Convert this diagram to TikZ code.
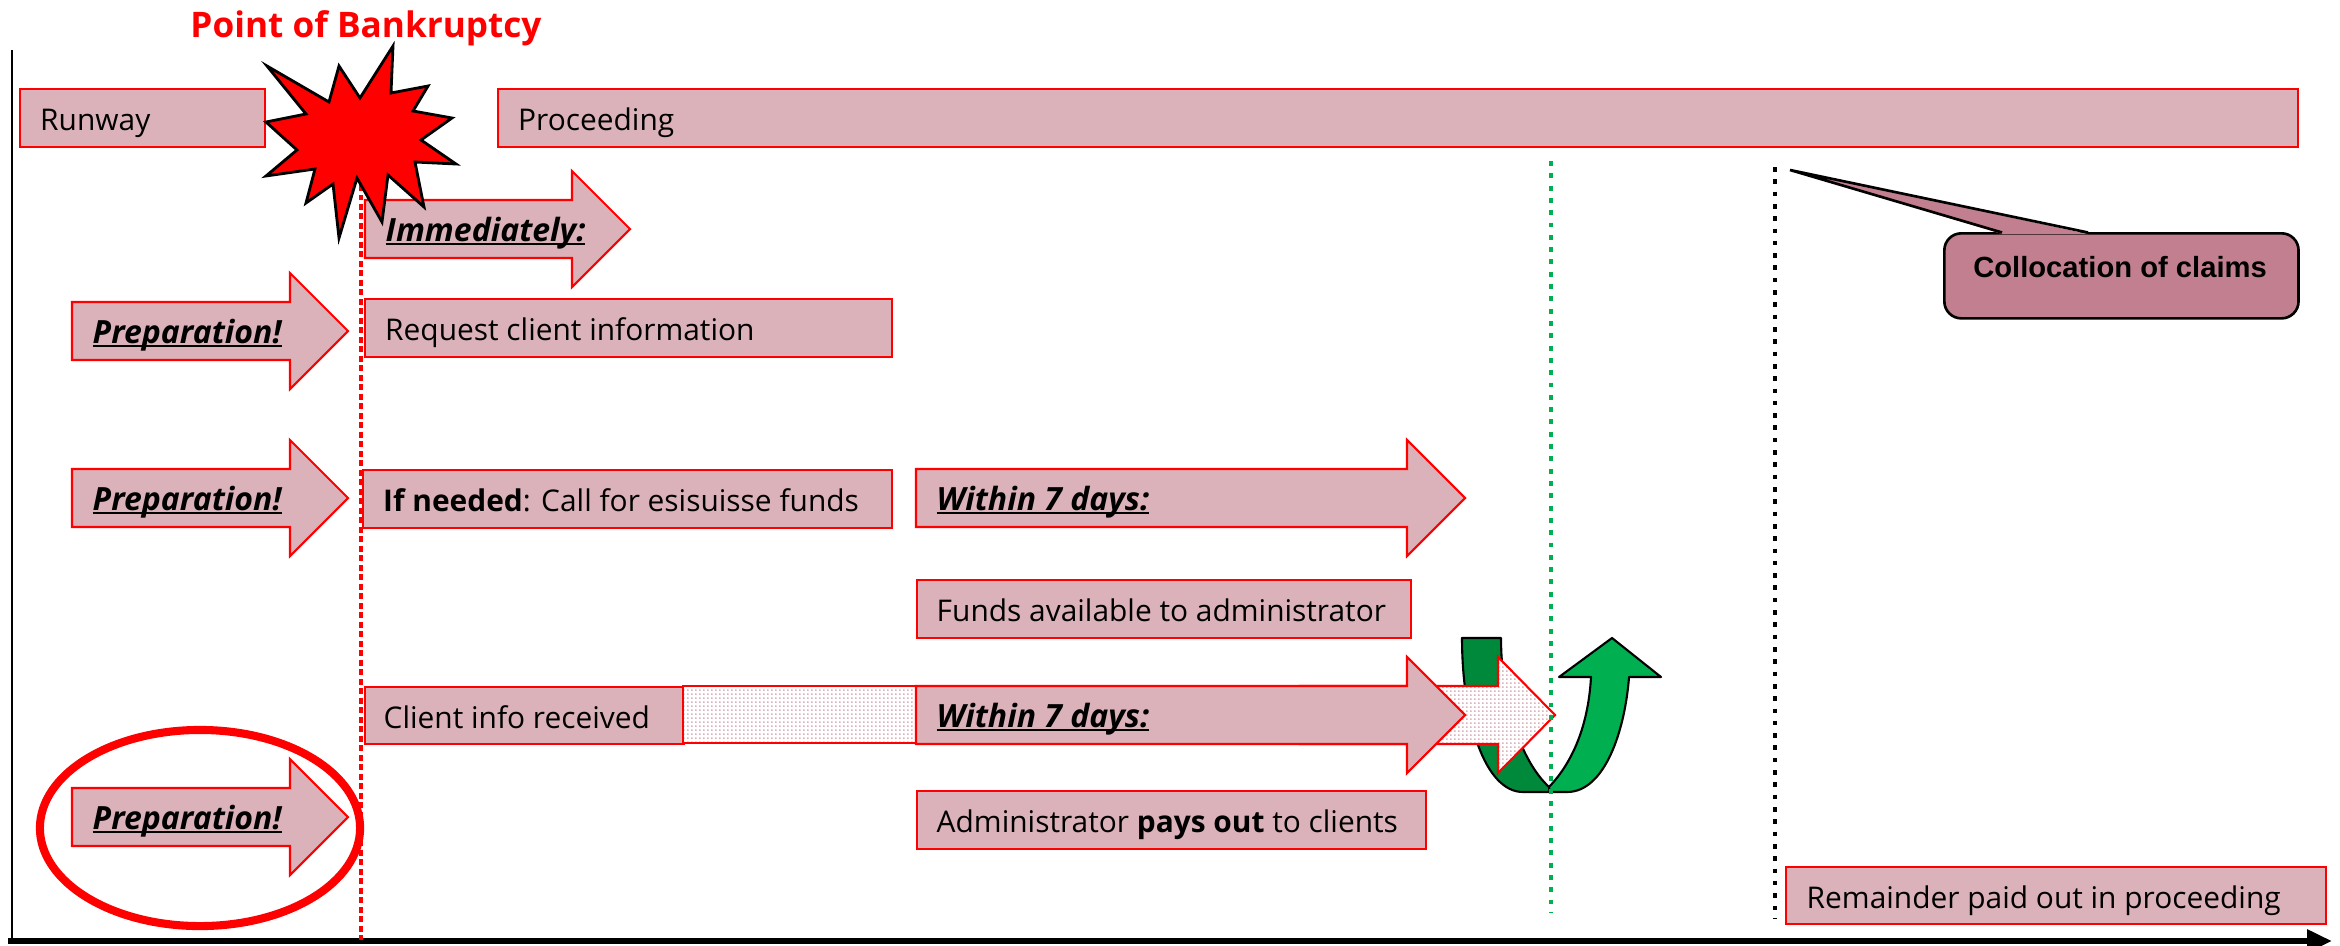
\documentclass[tikz,border=0pt]{standalone}
\usepackage{fontspec}
\setmainfont{Open Sans}
\newfontfamily\arialf{Liberation Sans}
\usetikzlibrary{arrows.meta,shapes.geometric,patterns.meta}
\definecolor{pinkf}{RGB}{219,178,186}
\definecolor{pred}{RGB}{255,0,0}
\definecolor{callf}{RGB}{194,127,143}
\definecolor{gdark}{RGB}{0,137,58}
\definecolor{glight}{RGB}{0,176,80}
\newcommand\ulin[1]{\setbox0\hbox{#1}\rlap{\rule[-1.1pt]{\wd0}{0.55pt}}\box0}
\newcommand\bodyfont{\fontsize{8.5pt}{10pt}\selectfont}
\newcommand\bifont{\fontsize{9.1pt}{11pt}\selectfont\bfseries\itshape}
\tikzdeclarepattern{name=pdots, type=uncolored, bottom left={(0pt,0pt)}, top right={(1.15pt,1.15pt)}, tile size={(1.15pt,1.15pt)}, code={\fill (0pt,0pt) rectangle (0.55pt,0.55pt);}}
\newcommand\barrow[5]{\path[#5] (#1,#4-29) -- (#2,#4-29) -- (#2,#4-58) -- (#3,#4) -- (#2,#4+58) -- (#2,#4+29) -- (#1,#4+29) -- cycle;}
\begin{document}
\begin{tikzpicture}[x=0.01cm, y=-0.01cm,
  box/.style={draw=pred, fill=pinkf, line width=0.6pt, inner sep=0pt, anchor=north west, rectangle},
  dotbox/.style={draw=pred, line width=0.6pt, preaction={fill=white}, pattern=pdots, pattern color=pinkf},
  arrowbox/.style={draw=pred, fill=pinkf, line width=0.6pt, line join=miter},
  txt/.style={anchor=west, inner sep=0pt, text height=0.71em, text depth=0pt, font=\bodyfont},
  bitxt/.style={txt, font=\bifont},
  reddot/.style={draw=pred, line width=1.14pt, dash pattern=on 1.7pt off 1pt},
  greendot/.style={draw=glight, line width=1.3pt, dash pattern=on 1.4pt off 2.1pt},
  blackdot/.style={draw=black, line width=1.3pt, dash pattern=on 1.3pt off 2.2pt},
  gout/.style={draw=black, line width=0.6pt, line join=round}
]
\useasboundingbox (0,0) rectangle (2340,945);
\coordinate (ytop) at (12,50);
\coordinate (origin) at (12,941);
\coordinate (xstart) at (8,941);
\coordinate (xend) at (2332,941);
\coordinate (rtop) at (361,185);
\coordinate (rbot) at (361,940);
\coordinate (gtop) at (1551,161);
\coordinate (gbot) at (1551,913);
\coordinate (ktop) at (1775,167);
\coordinate (kbot) at (1775,918);

% axes
\draw[line width=0.7pt] (ytop) -- (origin);
\draw[line width=1.7pt, -{Triangle[length=0.25cm, width=0.22cm]}] (xstart) -- (xend);

% title
\node[font=\fontsize{10pt}{12pt}\selectfont\bfseries, text=pred, anchor=base, inner sep=0pt] (title) at (366,37) {Point of Bankruptcy};

% top bars
\node[box, minimum width=2.45cm, minimum height=0.58cm] (runway) at (19,88) {};
\node[txt] (runwayT) at ([xshift=0.205cm]runway.west) {Runway};
\node[box, minimum width=17.99cm, minimum height=0.58cm] (proc) at (497,88) {};
\node[txt] (procT) at ([xshift=0.205cm]proc.west) {Proceeding};

% red dotted line
\draw[reddot] (rtop) -- (rbot);

% Immediately arrow
\barrow{365}{572}{630}{229}{arrowbox}
\node[bitxt] (immT) at (385,229) {\ulin{Immediately:}};

% preparation arrows
\barrow{72}{290}{348}{331}{arrowbox}
\node[bitxt] (prep1) at (92,331) {\ulin{Preparation!}};
\barrow{72}{290}{348}{498}{arrowbox}
\node[bitxt] (prep2) at (92,498) {\ulin{Preparation!}};
\barrow{72}{290}{348}{817}{arrowbox}
\node[bitxt] (prep3) at (92,817) {\ulin{Preparation!}};
\node[draw=pred, line width=2.3pt, ellipse, minimum width=3.2cm, minimum height=1.96cm, inner sep=0pt] (ring) at (200,828) {};

% boxes
\node[box, minimum width=5.27cm, minimum height=0.58cm] (request) at (364,298) {};
\node[txt] (requestT) at ([xshift=0.205cm]request.west) {Request client information};
\node[box, minimum width=5.29cm, minimum height=0.58cm] (ifneeded) at (362,469) {};
\node[txt] (ifneededT) at ([xshift=0.205cm]ifneeded.west) {{\bfseries If needed}: Call for esisuisse funds};

\barrow{916}{1407}{1465}{498}{arrowbox}
\node[bitxt] (w7a) at (936,498) {\ulin{Within 7 days:}};

\node[box, minimum width=4.94cm, minimum height=0.58cm] (funds) at (916,579) {};
\node[txt] (fundsT) at ([xshift=0.2cm]funds.west) {Funds available to administrator};

\node[box, minimum width=3.19cm, minimum height=0.57cm] (client) at (364,686) {};
\node[txt] (clientT) at ([xshift=0.19cm]client.west) {Client info received};
\path[dotbox] (683,686) rectangle (916,743);

\node[box, minimum width=5.09cm, minimum height=0.58cm] (admin) at (916,790) {};
\node[txt] (adminT) at ([xshift=0.2cm]admin.west) {Administrator {\bfseries pays out} to clients};

\node[box, minimum width=5.40cm, minimum height=0.57cm] (remain) at (1785,866) {};
\node[txt] (remainT) at ([xshift=0.21cm]remain.west) {Remainder paid out in proceeding};

% green U-turn arrow
\path[fill=gdark, gout] (1462,638) -- (1501,638) .. controls (1501,700) and (1520,760) .. (1549,787) -- (1550,792) -- (1523,792) .. controls (1485,792) and (1462,720) .. (1462,638) -- cycle;
\path[fill=glight, gout] (1550,792) -- (1567,792) .. controls (1605,792) and (1625,730) .. (1629,677) -- (1661,677) -- (1612,638) -- (1559,677) -- (1591,677) .. controls (1588,730) and (1570,765) .. (1549,787) -- cycle;

% dotted arrow and second within arrow
\barrow{1300}{1498}{1555}{715}{dotbox}
\barrow{916}{1407}{1465}{715}{arrowbox}
\node[bitxt] (w7b) at (936,715) {\ulin{Within 7 days:}};

% vertical dotted lines
\draw[greendot] (gtop) -- (gbot);
\draw[blackdot] (ktop) -- (kbot);

% callout
\node[draw=black, fill=callf, line width=0.75pt, rounded corners=0.17cm, minimum width=3.54cm, minimum height=0.85cm, anchor=north west, inner sep=0pt] (coll) at (1943,232) {};
\coordinate (ctip) at (1790,170);
\fill[callf] (2002,234) -- (ctip) -- (2088,234) -- cycle;
\draw[line width=0.75pt, line join=miter] (2002,232.5) -- (ctip) -- (2088,232.5);
\node[font=\arialf\fontsize{8.3pt}{10pt}\selectfont\bfseries, inner sep=0pt, text height=0.716em, text depth=0pt] (collT) at (2120,265) {Collocation of claims};

% starburst
\path[fill=pred, draw=black, line width=0.8pt, line join=miter] (267,66) -- (329,102) -- (339,66) -- (360,98) -- (393,46) -- (391,93) -- (428,86) -- (413,111) -- (452,118) -- (421,140) -- (456,164) -- (415,162) -- (424,207) -- (388,175) -- (382,222) -- (357,178) -- (339,238) -- (333,184) -- (306,203) -- (315,169) -- (266,176) -- (297,150) -- (266,122) -- (306,114) -- cycle;
\end{tikzpicture}
\end{document}
